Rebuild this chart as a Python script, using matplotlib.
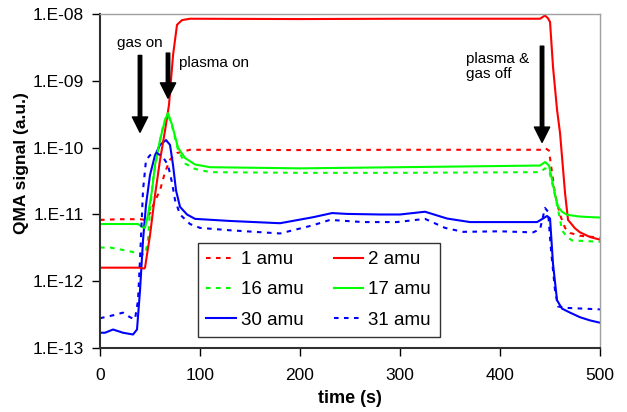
import numpy as np
import matplotlib
matplotlib.use("Agg")
import matplotlib.pyplot as plt
from matplotlib.ticker import FixedLocator, FuncFormatter, NullLocator

plt.rcParams['font.family'] = ['Liberation Sans', 'DejaVu Sans']

# 2 amu (red, solid)
t_2 = [0, 20, 40, 44, 45, 50, 55, 60, 65, 69, 73, 77, 82, 90, 200, 300, 440, 445,
       448, 450, 453, 457, 460, 465, 468, 475, 480, 490, 500]
v_2 = [1.6e-12, 1.6e-12, 1.6e-12, 1.55e-12, 1.6e-12, 4.9e-12, 1.95e-11, 6.5e-11, 1.8e-10,
       4.4e-10, 2.4e-9, 6.9e-9, 8.1e-9, 8.5e-9, 8.4e-9, 8.5e-9, 8.5e-9, 9.5e-9,
       8.6e-9, 7.6e-9, 1.6e-9, 3.7e-10, 1.65e-10, 2.1e-11, 8.3e-12, 6.2e-12, 5.4e-12,
       4.6e-12, 4.2e-12]

# 1 amu (red, dashed)
t_1 = [0, 20, 40, 45, 50, 55, 60, 65, 70, 77, 90, 200, 300, 440, 445, 449, 452, 455,
       460, 465, 470, 480, 500]
v_1 = [8.3e-12, 8.5e-12, 8.5e-12, 8.3e-12, 1.05e-11, 1.6e-11, 2.3e-11, 4.3e-11, 6.6e-11,
       8.3e-11, 9.3e-11, 9.2e-11, 9.3e-11, 9.3e-11, 9.9e-11, 9.0e-11, 4.2e-11, 2.0e-11,
       9.9e-12, 6.3e-12, 5.3e-12, 4.8e-12, 4.5e-12]

# 17 amu (green, solid)
t_17 = [0, 20, 38, 42, 45, 48, 52, 55, 60, 65, 68, 72, 78, 85, 95, 110, 200, 300, 440,
        445, 449, 452, 455, 458, 462, 467, 480, 500]
v_17 = [7.2e-12, 7.2e-12, 7.2e-12, 6.5e-12, 6.3e-12, 9.9e-12, 2.3e-11, 5.5e-11, 1.3e-10,
        2.6e-10, 3.3e-10, 2.2e-10, 1.0e-10, 7.0e-11, 5.6e-11, 5.1e-11, 4.9e-11, 5.1e-11,
        5.4e-11, 6.1e-11, 5.4e-11, 3.3e-11, 2.0e-11, 1.3e-11, 1.1e-11, 9.9e-12, 9.3e-12,
        9.0e-12]

# 16 amu (green, dashed)
t_16 = [0, 10, 20, 30, 40, 45, 48, 50, 53, 57, 62, 66, 68, 72, 78, 85, 95, 110, 200,
        300, 440, 445, 449, 453, 458, 462, 467, 472, 500]
v_16 = [3.2e-12, 3.2e-12, 3.0e-12, 2.8e-12, 2.6e-12, 2.5e-12, 4.2e-12, 1.17e-11, 3.3e-11,
        7.7e-11, 1.8e-10, 2.9e-10, 3.1e-10, 2.1e-10, 9.3e-11, 5.8e-11, 4.8e-11, 4.3e-11,
        4.2e-11, 4.2e-11, 4.3e-11, 4.9e-11, 4.6e-11, 2.6e-11, 1.2e-11, 5.8e-12, 4.6e-12,
        4.1e-12, 3.9e-12]

# 30 amu (blue, solid)
t_30 = [0, 5, 13, 23, 33, 37, 40, 43, 46, 50, 55, 60, 66, 70, 73, 76, 80, 87, 95, 130,
        180, 213, 232, 247, 280, 300, 325, 347, 370, 400, 437, 443, 447, 450, 453, 457,
        462, 470, 480, 490, 500]
v_30 = [1.7e-13, 1.7e-13, 1.9e-13, 1.7e-13, 1.6e-13, 1.9e-13, 7.3e-13, 4.1e-12, 1.4e-11,
        3.9e-11, 7.7e-11, 1.1e-10, 1.3e-10, 1.1e-10, 5.5e-11, 2.3e-11, 1.3e-11, 1.0e-11,
        8.6e-12, 8.0e-12, 7.4e-12, 9.1e-12, 1.05e-11, 1.02e-11, 1.0e-11, 1.0e-11, 1.1e-11,
        8.7e-12, 7.7e-12, 7.7e-12, 7.7e-12, 8.7e-12, 9.5e-12, 8.7e-12, 1.8e-12, 5.2e-13,
        3.9e-13, 3.4e-13, 2.9e-13, 2.6e-13, 2.4e-13]

# 31 amu (blue, dashed)
t_31 = [0, 13, 23, 30, 35, 38, 40, 43, 46, 50, 57, 63, 68, 72, 75, 80, 90, 100, 130, 180,
        213, 230, 263, 297, 325, 345, 363, 400, 433, 440, 445, 448, 451, 455, 458, 467, 500]
v_31 = [2.8e-13, 3.1e-13, 3.4e-13, 2.9e-13, 2.7e-13, 5.2e-13, 2.1e-12, 2.3e-11, 6.5e-11,
        7.7e-11, 8.3e-11, 7.2e-11, 5.5e-11, 3.0e-11, 1.65e-11, 1.0e-11, 7.2e-12, 6.3e-12,
        5.8e-12, 5.2e-12, 6.9e-12, 8.3e-12, 7.7e-12, 7.7e-12, 8.6e-12, 6.3e-12, 5.5e-12,
        5.6e-12, 5.4e-12, 6.0e-12, 1.25e-11, 1.1e-11, 2.9e-12, 7.3e-13, 4.2e-13, 4.0e-13,
        3.8e-13]

y_ticks = [1e-13, 1e-12, 1e-11, 1e-10, 1e-9, 1e-8]
x_ticks = [0, 100, 200, 300, 400, 500]

dash = (2.2, 2.6)
lw = 1.5

fig = plt.figure(figsize=(6.27, 4.12), dpi=100)
ax = fig.add_axes([0.1595, 0.155, 0.7975, 0.811])

l1, = ax.plot(t_1, v_1, color='#FF0000', lw=lw, dashes=dash, label='1 amu')
l16, = ax.plot(t_16, v_16, color='#00FF00', lw=lw, dashes=dash, label='16 amu')
l30, = ax.plot(t_30, v_30, color='#0000FF', lw=lw, label='30 amu')
l2, = ax.plot(t_2, v_2, color='#FF0000', lw=lw, label='2 amu')
l17, = ax.plot(t_17, v_17, color='#00FF00', lw=lw, label='17 amu')
l31, = ax.plot(t_31, v_31, color='#0000FF', lw=lw, dashes=dash, label='31 amu')

ax.set_yscale('log')
ax.set_xlim(0, 500)
ax.set_ylim(1e-13, 1e-8)
ax.yaxis.set_major_locator(FixedLocator(y_ticks))
ax.yaxis.set_minor_locator(NullLocator())
ax.yaxis.set_major_formatter(FuncFormatter(lambda v, p: "1.E%03d" % int(round(np.log10(v)))))
ax.set_xticks(x_ticks)
ax.tick_params(axis='both', direction='out', length=5.5, width=1, labelsize=12.5)
ax.tick_params(axis='x', pad=9)
ax.tick_params(axis='y', pad=6)

for s in ['left', 'bottom']:
    ax.spines[s].set_color('#303030')
    ax.spines[s].set_linewidth(1.5)
for s in ['top', 'right']:
    ax.spines[s].set_color('#a0a0a0')
    ax.spines[s].set_linewidth(1)

ax.set_xlabel('time (s)', fontsize=13, fontweight='bold', labelpad=5)
ax.set_ylabel('QMA signal (a.u.)', fontsize=12.5, fontweight='bold')
ax.yaxis.set_label_coords(-0.142, 0.554)

# arrows and notes
arr = dict(facecolor='black', edgecolor='black', width=2.5, headwidth=11, headlength=11)
ax.annotate('', xy=(40, 1.7e-10), xytext=(40, 2.4e-9), arrowprops=arr)
ax.annotate('', xy=(68, 5.5e-10), xytext=(68, 2.6e-9), arrowprops=arr)
ax.annotate('', xy=(442, 1.2e-10), xytext=(442, 3.3e-9), arrowprops=arr)
ax.text(17, 3.7e-9, 'gas on', fontsize=11, va='center', ha='left')
ax.text(79, 1.85e-9, 'plasma on', fontsize=11, va='center', ha='left')
ax.text(366, 1.66e-9, 'plasma &\ngas off', fontsize=11, va='center', ha='left',
        linespacing=1.1)

leg = ax.legend(handles=[l1, l16, l30, l2, l17, l31], ncol=2, loc='lower left',
                bbox_to_anchor=(0.196, 0.033), borderaxespad=0, fontsize=13.5,
                frameon=True, fancybox=False, edgecolor='black', handlelength=1.55,
                handletextpad=0.3, columnspacing=1.6, labelspacing=0.7,
                borderpad=0.45)
leg.get_frame().set_linewidth(1)

fig.savefig('out.png', dpi=100)
